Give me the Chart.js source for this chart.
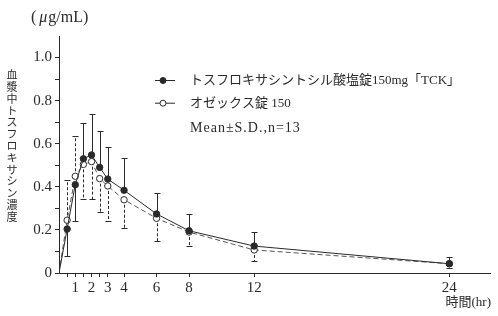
<!DOCTYPE html>
<html>
<head>
<meta charset="utf-8">
<script src="https://cdn.jsdelivr.net/npm/chart.js@4.4.1/dist/chart.umd.min.js"></script>
<style>
  html, body { margin: 0; padding: 0; background: #fff; }
  #wrap { width: 498px; height: 316px; }
</style>
</head>
<body>
<div id="wrap"><canvas id="pkChart" width="498" height="316"></canvas></div>
<script>
"use strict";

// time points (hr)
var timeHr = [0, 0.5, 1, 1.5, 2, 2.5, 3, 4, 6, 8, 12, 24];

// トスフロキサシントシル酸塩錠150mg「TCK」
var tckLabel = 'トスフロキサシントシル酸塩錠150mg「TCK」';
var tckMean = [0, 0.204, 0.41, 0.53, 0.548, 0.49, 0.436, 0.384, 0.274, 0.196, 0.125, 0.043];
var tckSD = [null, 0.124, 0.17, 0.165, 0.19, 0.167, 0.15, 0.148, 0.096, 0.076, 0.064, 0.03];
var tckSdSide = [0, -1, -1, 1, 1, 1, 1, 1, 1, 1, 1, 1];

// オゼックス錠150
var ozxLabel = 'オゼックス錠 150';
var ozxMean = [0, 0.245, 0.449, 0.504, 0.517, 0.438, 0.404, 0.34, 0.254, 0.19, 0.107, 0.043];
var ozxSD = [null, 0.185, 0.187, 0.162, 0.175, 0.156, 0.163, 0.13, 0.106, 0.063, 0.053, 0.021];
var ozxSdSide = [0, 1, 1, -1, -1, -1, -1, -1, -1, -1, -1, -1];

var noteText = 'Mean±S.D.,n=13';

var xTicks = [0.5, 1, 1.5, 2, 2.5, 3, 4, 6, 8, 12, 24];
var xTickLabels = ['', '1', '', '2', '', '3', '4', '6', '8', '12', '24'];
var yTicks = [0, 0.1, 0.2, 0.3, 0.4, 0.5, 0.6, 0.7, 0.8, 0.9, 1.0];
var yTickLabels = ['0', '', '0.2', '', '0.4', '', '0.6', '', '0.8', '', '1.0'];

var yTitle = '血漿中トスフロキサシン濃度';
var xTitle = '時間(hr)';

var ink = '#2a2a2a';
var serif = "'Liberation Serif', 'Noto Sans CJK JP', serif";

function toPoints(xs, ys) {
    return xs.map(function (x, i) { return { x: x, y: ys[i] }; });
}

var errorBars = {
    id: 'errorBars',
    beforeDatasetsDraw: function (chart) {
        var ctx = chart.ctx;
        var xs = chart.scales.x, ys = chart.scales.y;
        var sets = [
            { mean: tckMean, sd: tckSD, side: tckSdSide, dash: [] },
            { mean: ozxMean, sd: ozxSD, side: ozxSdSide, dash: [3, 2] }
        ];
        ctx.save();
        ctx.strokeStyle = ink;
        ctx.lineWidth = 1;
        sets.forEach(function (s) {
            timeHr.forEach(function (t, i) {
                if (s.sd[i] == null || !s.side[i]) return;
                var px = Math.round(xs.getPixelForValue(t)) + 0.5;
                var y0 = ys.getPixelForValue(s.mean[i]);
                var y1 = Math.round(ys.getPixelForValue(s.mean[i] + s.side[i] * s.sd[i])) + 0.5;
                ctx.setLineDash(s.dash);
                ctx.beginPath();
                ctx.moveTo(px, y0);
                ctx.lineTo(px, y1);
                ctx.stroke();
                ctx.setLineDash([]);
                ctx.beginPath();
                ctx.moveTo(px - 3, y1);
                ctx.lineTo(px + 3, y1);
                ctx.stroke();
            });
        });
        ctx.restore();
    }
};

var labels = {
    id: 'labels',
    afterDraw: function (chart) {
        var ctx = chart.ctx;
        ctx.save();
        ctx.fillStyle = ink;
        ctx.textBaseline = 'middle';

        // unit
        ctx.font = '16px ' + serif;
        ctx.textAlign = 'left';
        var x = 31;
        ctx.fillText('(', x, 18); x += ctx.measureText('(').width + 3;
        ctx.font = 'italic 16px ' + serif;
        ctx.fillText('μ', x, 18); x += ctx.measureText('μ').width + 1;
        ctx.font = '16px ' + serif;
        ctx.fillText('g/mL)', x, 18);

        // x title
        ctx.font = '13px ' + serif;
        ctx.textAlign = 'right';
        ctx.fillText(xTitle, 491, 303);

        // vertical y title
        ctx.font = "11px 'Noto Sans CJK JP', sans-serif";
        ctx.textAlign = 'center';
        Array.from(yTitle).forEach(function (ch, i) {
            ctx.fillText(ch, 12, 75 + i * 11.8);
        });

        // legend
        chart.data.datasets.forEach(function (ds, i) {
            var ly = 80.5 + i * 22.7;
            ctx.strokeStyle = ink;
            ctx.lineWidth = 1;
            ctx.beginPath();
            ctx.moveTo(155, ly);
            ctx.lineTo(175, ly);
            ctx.stroke();
            ctx.beginPath();
            ctx.arc(163, ly, 3, 0, Math.PI * 2);
            ctx.fillStyle = ds.pointBackgroundColor;
            ctx.fill();
            ctx.stroke();
            ctx.fillStyle = ink;
            ctx.font = '13px ' + serif;
            ctx.textAlign = 'left';
            ctx.fillText(ds.label, 190, ly);
        });
        ctx.font = '14px ' + serif;
        ctx.letterSpacing = '1px';
        ctx.fillText(noteText, 190, 128);
        ctx.restore();
    }
};

var chart = new Chart(document.getElementById('pkChart'), {
    type: 'line',
    data: {
        datasets: [{
            label: tckLabel,
            data: toPoints(timeHr, tckMean),
            borderColor: ink,
            borderWidth: 1,
            pointRadius: function (c) { return c.dataIndex === 0 ? 0 : 3.2; },
            pointBackgroundColor: ink,
            pointBorderColor: ink,
            pointBorderWidth: 1,
            tension: 0
        }, {
            label: ozxLabel,
            data: toPoints(timeHr, ozxMean),
            borderColor: '#555',
            borderWidth: 1,
            borderDash: [5, 3],
            pointRadius: function (c) { return c.dataIndex === 0 ? 0 : 3.2; },
            pointBackgroundColor: '#fff',
            pointBorderColor: ink,
            pointBorderWidth: 1,
            tension: 0
        }]
    },
    options: {
        responsive: false,
        animation: false,
        layout: { padding: { left: 0, top: 36, right: 8, bottom: 0 } },
        plugins: {
            legend: { display: false },
            tooltip: { enabled: false }
        },
        scales: {
            x: {
                type: 'linear',
                min: 0,
                max: 26.5,
                afterBuildTicks: function (s) {
                    s.ticks = xTicks.map(function (v) { return { value: v }; });
                },
                afterFit: function (s) { s.height = 43; },
                ticks: {
                    autoSkip: false,
                    maxRotation: 0,
                    padding: 2,
                    color: ink,
                    font: { family: serif, size: 15 },
                    callback: function (v, i) { return xTickLabels[i]; }
                },
                grid: { drawOnChartArea: false, drawTicks: true, tickLength: 4, color: ink },
                border: { display: true, color: ink, width: 1 }
            },
            y: {
                min: 0,
                max: 1.1,
                afterBuildTicks: function (s) {
                    s.ticks = yTicks.map(function (v) { return { value: v }; });
                },
                afterFit: function (s) { s.width = 59; },
                ticks: {
                    autoSkip: false,
                    padding: 3,
                    color: ink,
                    font: { family: serif, size: 15 },
                    callback: function (v, i) { return yTickLabels[i]; }
                },
                grid: { drawOnChartArea: false, drawTicks: true, tickLength: 4, color: ink },
                border: { display: true, color: ink, width: 1 }
            }
        }
    },
    plugins: [errorBars, labels]
});
</script>
</body>
</html>
